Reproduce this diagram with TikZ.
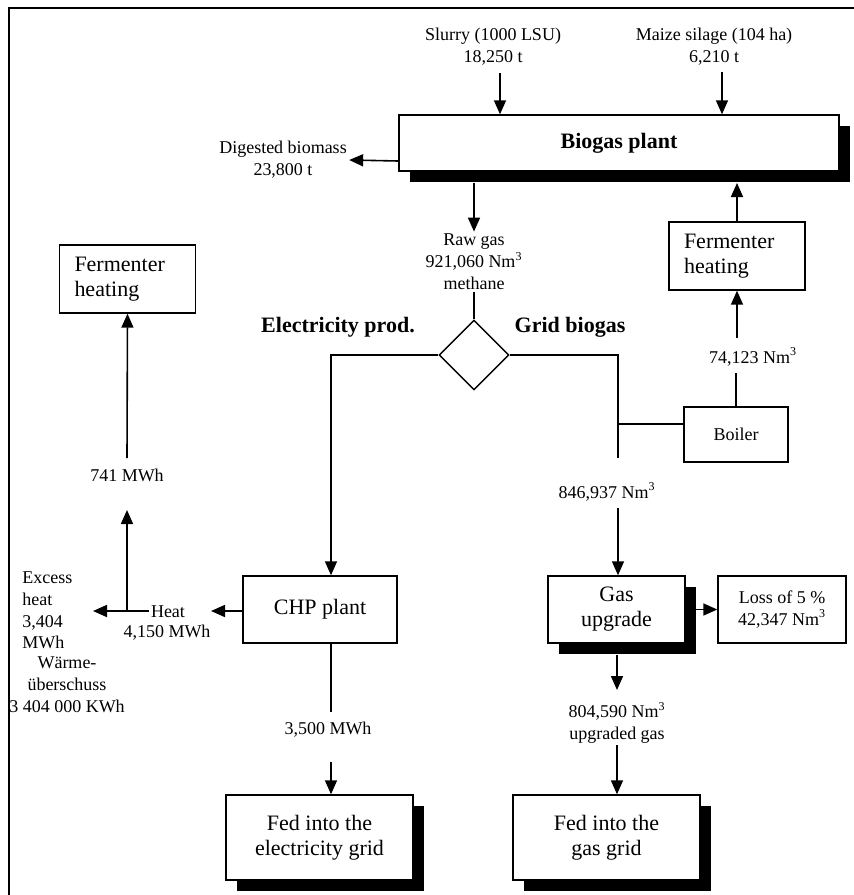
\documentclass[tikz,border=0pt]{standalone}
\usepackage{fontspec}
\setmainfont{Liberation Serif}
\usetikzlibrary{arrows.meta,shapes.geometric,shadows}
\tikzset{
  lbl/.style={font=\fontsize{9}{11}\selectfont, align=center, inner sep=1pt},
  blbl/.style={font=\bfseries\fontsize{11}{13}\selectfont, inner sep=1pt},
  box/.style={draw, line width=0.7pt, fill=white, align=center, inner sep=2pt},
  big/.style={font=\fontsize{11}{12.5}\selectfont},
  small/.style={font=\fontsize{9}{11}\selectfont},
  sbox/.style={box, drop shadow={shadow xshift=5.5pt, shadow yshift=-5.5pt, fill=black, opacity=1}},
  fbox/.style={box, big, minimum width=68pt, minimum height=34pt, text width=53pt, align=left, inner xsep=7.5pt},
  arr/.style={line width=0.8pt, -{Triangle[length=7pt,width=6pt]}},
  ln/.style={line width=0.8pt}
}
\begin{document}
\begin{tikzpicture}[x=0.5pt,y=-0.5pt]
\useasboundingbox (0,0) rectangle (854,895);

% inputs
\node[lbl] (slurry) at (493,47) {Slurry (1000 LSU)\\18,250 t};
\node[lbl] (maize) at (714,47) {Maize silage (104 ha)\\6,210 t};

% biogas plant
\node[sbox, minimum width=220pt, minimum height=28pt, font=\bfseries\fontsize{11}{13}\selectfont] (biogas) at (619,143) {Biogas plant};
\coordinate (bsh) at (619,183);

\coordinate (sA) at (500,73);
\coordinate (mA) at (722,72);
\draw[arr] (sA) -- (sA |- biogas.north);
\draw[arr] (mA) -- (mA |- biogas.north);

\node[lbl] (dig) at (283,160) {Digested biomass\\23,800 t};
\draw[arr] ([yshift=-9pt]biogas.west) -- (dig.east);

% raw gas and split
\node[lbl] (rawgas) at (474,262) {Raw gas\\921,060 Nm\textsuperscript{3}\\methane};
\draw[arr] (rawgas.north |- bsh) -- (rawgas.north);
\node[diamond, draw, line width=0.7pt, minimum width=35pt, minimum height=35pt, inner sep=0pt, aspect=1] (dia) at (474,355) {};
\draw[ln] (rawgas.south) -- (dia.north);
\node[blbl] (elec) at (338,327) {Electricity prod.};
\node[blbl] (gridb) at (570,327) {Grid biogas};

% right: fermenter heating and boiler
\node[fbox] (fermR) at (737,256) {Fermenter\\heating};
\draw[arr] (fermR.north) -- (fermR.north |- bsh);
\node[box, small, minimum width=52pt, minimum height=27.5pt] (boiler) at (736,434.5) {Boiler};
\node[lbl] (n74) at (753,357) {74,123 Nm\textsuperscript{3}};
\coordinate (b1) at (737,373);
\coordinate (b2) at (737,338);
\draw[ln] (boiler.north) -- (boiler.north |- b1);
\draw[arr] (b2) -- (b2 |- fermR.south);

\coordinate (rb) at (618,458);
\coordinate (bj) at (618,424);
\draw[ln] (dia.east) -| (rb);
\draw[ln] (bj) -- (bj -| boiler.west);

% gas upgrade branch
\node[lbl] (n846) at (607,492) {846,937 Nm\textsuperscript{3}};
\node[sbox, big, minimum width=68.5pt, minimum height=33.5pt] (gas) at (616.5,609.5) {Gas\\upgrade};
\coordinate (g1) at (618,508);
\draw[arr] (g1) -- (g1 |- gas.north);
\node[box, small, minimum width=64pt, minimum height=33.5pt] (loss) at (782,609.5) {Loss of 5 \%\\42,347 Nm\textsuperscript{3}};
\draw[arr] (gas.east) -- (loss.west);
\node[lbl] (n804) at (617,723) {804,590 Nm\textsuperscript{3}\\upgraded gas};
\coordinate (g2) at (617,655);
\coordinate (g3) at (617,690);
\coordinate (g4) at (617,745);
\draw[arr] (g2) -- (g3);
\node[sbox, big, minimum width=93.5pt, minimum height=42.5pt] (fedG) at (606.5,837.5) {Fed into the\\gas grid};
\draw[arr] (g4) -- (g4 |- fedG.north);

% CHP branch
\node[box, big, minimum width=77pt, minimum height=33.5pt] (chp) at (320,609.5) {CHP plant};
\draw[arr] (dia.west) -| ([xshift=5.5pt]chp.north);
\coordinate (c1) at (331,712);
\coordinate (c2) at (331,762);
\draw[ln] (chp.south -| c1) -- (c1);
\node[lbl] (n3500) at (328,730) {3,500 MWh};
\node[sbox, big, minimum width=93.5pt, minimum height=42.5pt] (fedE) at (319.5,837.5) {Fed into the\\electricity grid};
\draw[arr] (c2) -- (c2 |- fedE.north);

% heat
\node[lbl] (heat1) at (168,612) {Heat};
\node[lbl] (heat2) at (167,633) {4,150 MWh};
\coordinate (hj) at (127,611);
\coordinate (hTip) at (211,611);
\coordinate (exTip) at (93,611);
\draw[arr] (chp.west |- hTip) -- (hTip);
\draw[arr] (heat1.west |- hj) -- (exTip);

\node[fbox] (fermL) at (127.5,279) {Fermenter\\heating};
\node[lbl] (n741) at (127,475) {741 MWh};
\coordinate (u1) at (127,510);
\coordinate (u2) at (127,458);
\draw[arr] (hj) -- (u1);
\draw[arr] (u2) -- (fermL.south);

\node[lbl, align=left, anchor=west, inner sep=0pt, font=\fontsize{9}{10.85}\selectfont] (excess) at (22,610.5) {Excess\\heat\\3,404\\MWh};
\node[lbl, inner sep=0pt] (waerme) at (67,685) {Wärme-\\überschuss\\3 404 000 KWh};

% frame
\draw[line width=0.8pt] (9,895) -- (9,8) -- (854,8);
\end{tikzpicture}
\end{document}
